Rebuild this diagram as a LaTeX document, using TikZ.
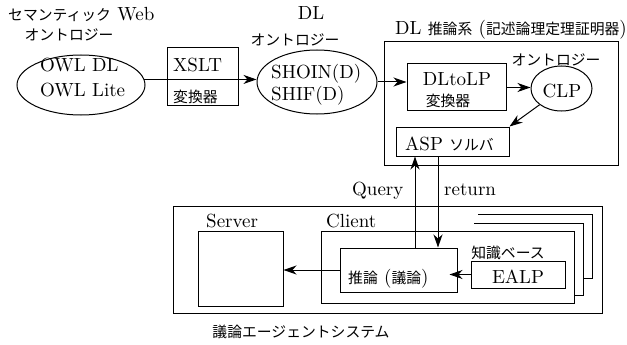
\documentclass[tikz,border=0pt]{standalone}
\usepackage{fontspec}
\setmainfont{lmroman10-regular.otf}
\newfontfamily\jp{Noto Sans CJK JP}[Scale=0.78]
\usetikzlibrary{shapes.geometric,arrows.meta}
\begin{document}
\begin{tikzpicture}[x=1pt,y=-1pt,font=\fontsize{19}{23}\selectfont,
  t/.style={inner sep=0pt},
  box/.style={draw,rectangle,line width=1pt,inner sep=0pt},
  ell/.style={draw,ellipse,line width=1pt,inner sep=0pt},
  arr/.style={-{Stealth[length=13pt,width=9pt,inset=4pt]},line width=1pt},
  frameline/.style={line width=1pt}]
\useasboundingbox (0,0) rectangle (627,345);
% left ontology
\node[ell,minimum width=128pt,minimum height=60pt] (owl) at (81,85) {};
\node[t,anchor=base west] (owl1) at (40,72) {OWL DL};
\node[t,anchor=base west] (owl2) at (40,96) {OWL Lite};
\node[t,anchor=base west] (semweb) at (8,21) {{\jp セマンティック} Web};
\node[t] (ont1) at (69,35) {\jp オントロジー};
% XSLT
\node[box,minimum width=71pt,minimum height=58pt] (xslt) at (202.5,77) {};
\node[t,anchor=base west] (xslt1) at (173,72) {XSLT};
\node[t,anchor=west] (xslt2) at (173,97) {\jp 変換器};
% DL ontology
\node[ell,minimum width=120pt,minimum height=64pt] (dlont) at (317,82) {};
\node[t,anchor=base west] (sh1) at (271,78) {SHOIN(D)};
\node[t,anchor=base west] (sh2) at (271,100) {SHIF(D)};
\node[t,anchor=base] (dl) at (311,20) {DL};
\node[t] (ont2) at (295,40) {\jp オントロジー};
% DL reasoning system
\node[t,anchor=base west] (dlsys) at (395,35) {DL {\jp 推論系} ({\jp 記述論理定理証明器})};
\node[box,minimum width=234pt,minimum height=123pt] (sys) at (501,103.5) {};
\node[box,minimum width=99pt,minimum height=47pt] (dltolp) at (456.5,87.5) {};
\node[t,anchor=base] (dltolp1) at (457,85) {DLtoLP};
\node[t] (dltolp2) at (448,101) {\jp 変換器};
\node[ell,minimum width=61pt,minimum height=45pt] (clp) at (561.5,88.5) {};
\node[t,anchor=base] (clpt) at (562,97) {CLP};
\node[t] (ont3) at (556,60) {\jp オントロジー};
\node[box,minimum width=113pt,minimum height=29pt] (asp) at (452.5,141.5) {};
\node[t,anchor=base west] (aspt) at (405,150) {ASP {\jp ソルバ}};
% agent system
\node[box,minimum width=429pt,minimum height=107pt] (agent) at (387.5,259.5) {};
\node[box,minimum width=85pt,minimum height=75pt] (server) at (240.5,268.5) {};
\node[t,anchor=base west] (servert) at (206,227) {Server};
\node[box,minimum width=253pt,minimum height=72pt] (client) at (447.5,267) {};
\node[t,anchor=base west] (clientt) at (326,227) {Client};
\node[box,minimum width=117pt,minimum height=44pt] (infer) at (398.5,270) {};
\node[t,anchor=base west] (infert) at (348,283) {{\jp 推論} ({\jp 議論})};
\node[t] (kb) at (508,253) {\jp 知識ベース};
\node[box,minimum width=94pt,minimum height=27pt] (ealp) at (518,274.5) {};
\node[t,anchor=base] (ealpt) at (518,283) {EALP};
\node[t] (agentt) at (301,332) {\jp 議論エージェントシステム};
\node[t,anchor=base west] (queryt) at (352,195) {Query};
\node[t,anchor=base west] (returnt) at (444,195) {return};
% stacked client frames
\draw[frameline] (474,223) -- (583,223) -- (583,295) -- (574,295);
\draw[frameline] (478,214) -- (592,214) -- (592,278) -- (583,278);
% connectors
\coordinate (qx) at (415,0);
\coordinate (rx) at (438,0);
\draw[arr] (owl.5) -- (owl.5 -| dlont.west);
\draw[arr] (dlont.east) -- (dlont.east -| dltolp.west);
\draw[arr] (dltolp.east) -- (dltolp.east -| clp.west);
\draw[arr] (clp.south west) -- (asp.north east);
\draw[arr] (infer.north -| qx) -- (asp.south -| qx);
\draw[arr] (asp.south -| rx) -- (infer.north -| rx);
\draw[arr,shorten >=-8pt] (ealp.west) -- (ealp.west -| infer.east);
\draw[arr] (infer.west) -- (infer.west -| server.east);
\end{tikzpicture}
\end{document}
